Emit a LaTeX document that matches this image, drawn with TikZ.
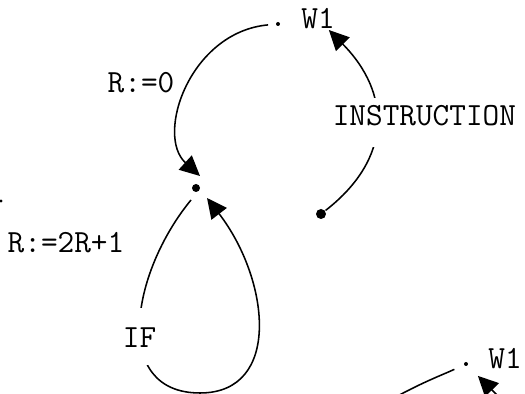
\documentclass[tikz,border=0pt]{standalone}
\usepackage{fontspec}
\usetikzlibrary{arrows.meta}
\tikzset{
  every picture/.style={line width=1.1pt},
  arrow/.style={-{Triangle[length=5mm, width=4.8mm]}},
  lbl/.style={font=\fontsize{23}{27}\selectfont\ttfamily, inner sep=0pt},
  gap/.style={fill=white},
  dot/.style={circle, fill=black, inner sep=0pt, minimum size=#1},
  dot/.default=1.5mm,
}
\begin{document}
\begin{tikzpicture}
  \useasboundingbox (0,0) rectangle (13.125,9.85);
  \clip (0,0) rectangle (13.125,9.85);
  % points
  \node[dot=1mm] (wa) at (6.95,9.25) {};
  \node[lbl] (w1a) at (7.95,9.375) {W1};
  \node[dot=2mm] (c) at (4.9,5.15) {};
  \node[dot=2.5mm] (s) at (8.025,4.5) {};
  \node[dot=0.8mm] (edge) at (0.025,4.825) {};
  \node[dot=1mm] (wb) at (11.65,0.75) {};
  \node[lbl] (w1b) at (12.625,0.8875) {W1};
  \coordinate (tailb) at (9.25,-0.45);
  \coordinate (headb) at (12.9,-0.5);
  % R:=0
  \draw[arrow, shorten <=0.18cm] (wa) .. controls (4.75,9.05) and (3.875,6.475) .. ([shift={(0.1,0.3)}]c.center);
  \node[lbl] (lr0) at (3.525,7.775) {R:=0};
  % instruction
  \draw[arrow] (s) .. controls (9.825,5.9) and (9.775,7.525) .. (w1a);
  \node[lbl, gap, anchor=base, text height=0.7cm, text depth=0.525cm] (lins) at (10.61,6.7) {INSTRUCTION};
  % loop
  \draw[arrow] ([shift={(-0.125,-0.3)}]c.center) .. controls (3.275,3.025) and (2.775,0.025) .. (5.0,0.025)
    .. controls (7.05,0.025) and (6.75,2.85) .. ([shift={(0.275,-0.25)}]c.center);
  \node[lbl] (l2r) at (1.65,3.775) {R:=2R+1};
  \node[lbl, gap, anchor=base, text height=1.0cm, text depth=0.425cm] (lif) at (3.49,1.15) {IF};
  % next W1
  \draw[shorten <=0.25cm] (wb) .. controls (11.0,0.45) and (10.3,0.2) .. (tailb);
  \draw[arrow, shorten >=0.35cm] (headb) -- (wb);
\end{tikzpicture}
\end{document}
